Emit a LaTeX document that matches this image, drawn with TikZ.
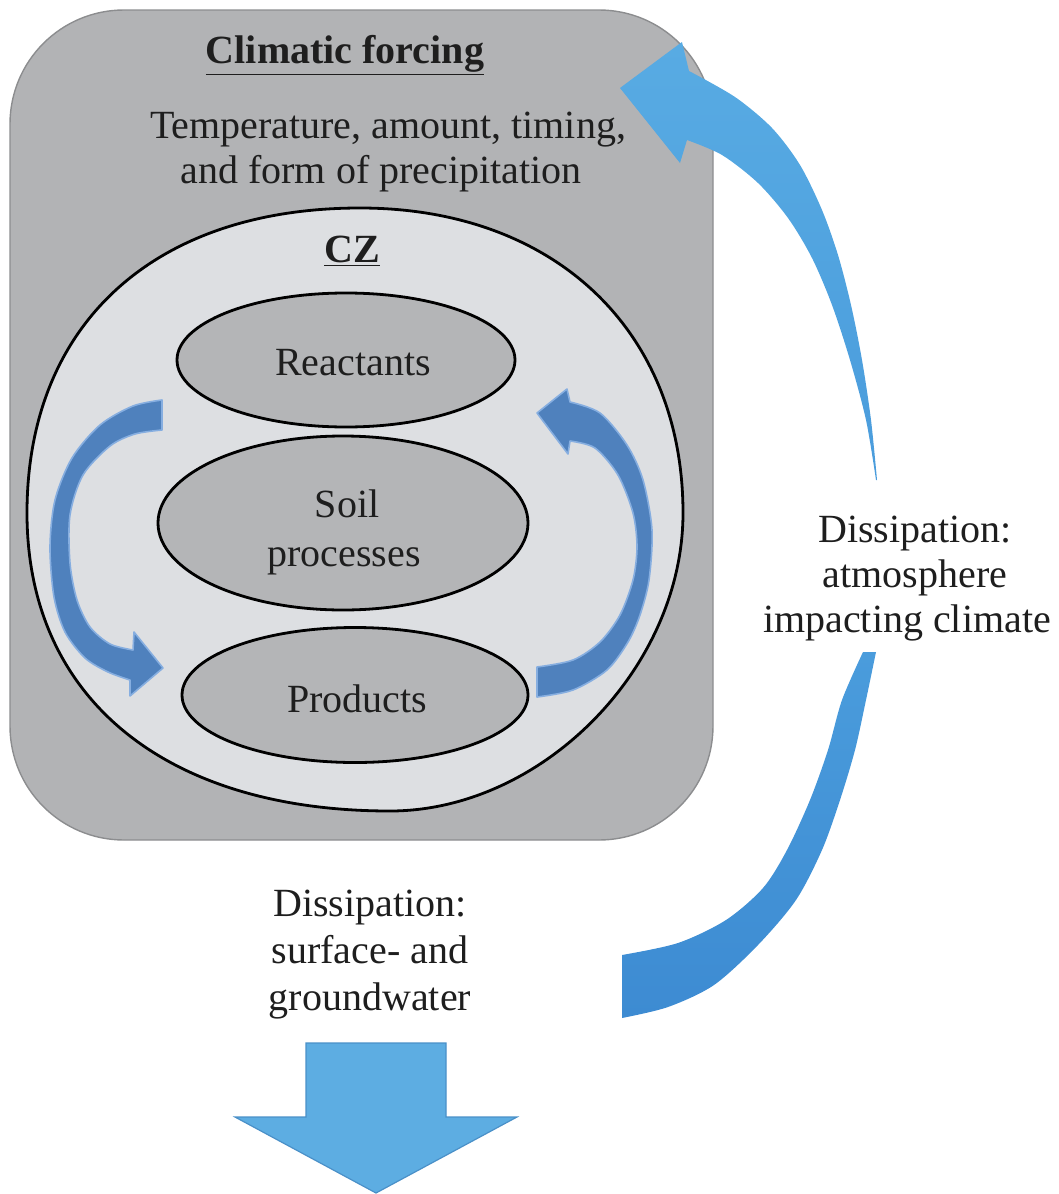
\documentclass[tikz,border=0pt]{standalone}
\usepackage{fontspec}
\setmainfont{Liberation Serif}
\usetikzlibrary{shapes.geometric}
\definecolor{boxgray}{HTML}{B2B3B5}
\definecolor{boxedge}{HTML}{8C8D8F}
\definecolor{czfill}{HTML}{DDDFE2}
\definecolor{ingray}{HTML}{B4B5B7}
\definecolor{inblue}{HTML}{4F81BD}
\definecolor{inblueedge}{HTML}{86AEE0}
\definecolor{bigblue}{HTML}{58ABE3}
\definecolor{bigbluemid}{HTML}{4A9CDC}
\definecolor{bigbluedark}{HTML}{3D8BD2}
\definecolor{dblue}{HTML}{5DADE2}
\definecolor{dblueedge}{HTML}{4A90C8}
\definecolor{txtcol}{HTML}{1E1E1E}
\begin{document}
\begin{tikzpicture}[x=0.5pt,y=-0.5pt,
  txt/.style={font=\fontsize{20}{23}\selectfont, text=txtcol, inner sep=0pt, anchor=base},
  btxt/.style={txt, font=\fontsize{20}{23}\selectfont\bfseries},
  inell/.style={ellipse, draw=black, line width=1.4pt, fill=ingray, inner sep=0pt},
  inarrow/.style={fill=inblue, draw=inblueedge, line width=0.8pt, line join=round},
  bigarrow/.style={draw=none},
]
\useasboundingbox (0,0) rectangle (1059,1194);

% outer climatic forcing box
\draw[fill=boxgray, draw=boxedge, line width=0.7pt, rounded corners=57pt] (10,10) rectangle (713,840);

% CZ shape
\draw[fill=czfill, draw=black, line width=1.4pt]
  (360,208) .. controls (554,208) and (683,330) .. (683,513)
            .. controls (683,668) and (542,811) .. (390,811)
            .. controls (165,811) and (27,698) .. (27,513)
            .. controls (27,324) and (154,208) .. (360,208) -- cycle;

% inner ellipses
\node[inell, minimum width=169pt, minimum height=67pt] (react) at (346,360) {};
\node[inell, minimum width=185pt, minimum height=87pt] (soil) at (343,523) {};
\node[inell, minimum width=173pt, minimum height=67.5pt] (prod) at (355,695) {};

% texts
\node[btxt] (cf) at (345,63) {\underline{Climatic forcing}};
\node[txt] (t1) at (388,138) {Temperature, amount, timing,};
\node[txt] (t2) at (381,183) {and form of precipitation};
\node[btxt] (cz) at (352,262) {\underline{CZ}};
\node[txt] (reacttxt) at (353,375) {Reactants};
\node[txt] (soiltxt1) at (347,517) {Soil};
\node[txt] (soiltxt2) at (344,566) {processes};
\node[txt] (prodtxt) at (357,712) {Products};
\node[txt] (r1) at (915,542) {Dissipation:};
\node[txt] (r2) at (915,587) {atmosphere};
\node[txt] (r3) at (907,632) {impacting climate};
\node[txt] (b1) at (370,916) {Dissipation:};
\node[txt] (b2) at (370,963) {surface- and};
\node[txt] (b3) at (370,1010) {groundwater};

% inner left arrow (reactants -> products)
\draw[inarrow] (162,400) -- plot[smooth] coordinates {(162,400) (133,406) (100,425) (72,458) (55,500) (50,547) (54,597) (65,632) (85,658) (108,672) (130,680)}
  -- (130,696) -- (163,668) -- (134,632) -- (133,650)
  -- plot[smooth] coordinates {(133,650) (110,644) (90,627) (77,600) (70,563) (70,515) (83,475) (110,446) (135,434) (162,430)} -- cycle;

% inner right arrow (products -> reactants)
\draw[inarrow] (537,667) -- plot[smooth] coordinates {(537,667) (573,660) (600,642) (620,615) (633,580) (637,547) (633,513) (618,475) (595,448) (570,441)}
  -- (568,454) -- (537,413) -- (567,389) -- (570,402)
  -- plot[smooth] coordinates {(570,402) (600,413) (627,445) (643,480) (652,530) (649,580) (640,615) (628,642) (607,670) (573,690) (537,697)} -- cycle;

% big curved arrow, upper part with head
\shade[bigarrow, top color=bigblue, bottom color=bigbluemid]
  (620,88) -- (682,42) -- (689,71)
  -- plot[smooth] coordinates {(689,71) (735,97) (772,128) (800,165) (822,210) (838,255) (851,305) (862,360) (871,420) (877,480)}
  -- plot[smooth] coordinates {(876,480) (866,420) (850,360) (832,305) (812,258) (788,218) (758,183) (722,155) (687,140)}
  -- (680,163) -- cycle;

% big curved arrow, lower part (tail)
\shade[bigarrow, top color=bigbluemid, bottom color=bigbluedark]
  (863,652) -- (876,652)
  -- plot[smooth] coordinates {(876,652) (866,700) (855,750) (840,800) (822,850) (796,900) (758,945) (714,985) (668,1007) (622,1018)}
  -- (622,955)
  -- plot[smooth] coordinates {(622,955) (678,943) (726,920) (763,888) (787,850) (810,800) (828,750) (842,700) (863,652)}
  -- cycle;

% downward arrow
\draw[fill=dblue, draw=dblueedge, line width=0.6pt, line join=miter]
  (306,1043) -- (446,1043) -- (446,1117) -- (517,1117) -- (376,1193) -- (235,1117) -- (306,1117) -- cycle;
\end{tikzpicture}
\end{document}
